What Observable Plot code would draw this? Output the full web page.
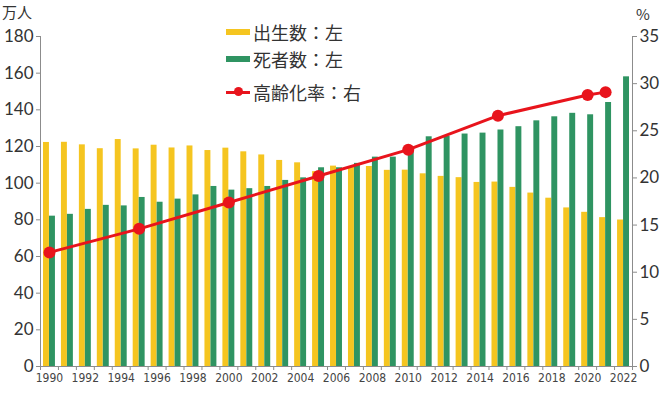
<!DOCTYPE html>
<html>
<head>
<meta charset="utf-8">
<script src="https://cdn.jsdelivr.net/npm/d3@7"></script>
<script src="https://cdn.jsdelivr.net/npm/@observablehq/plot@0.6"></script>
<style>
  html, body { margin: 0; padding: 0; background: #fff; }
  #wrap { position: relative; width: 660px; height: 395px; font-family: "Noto Sans CJK JP", "Noto Sans", sans-serif; color: #333; }
  #chart svg { display: block; }
  .unit { position: absolute; font-size: 15px; line-height: 1; color: #333; }
  #legend { position: absolute; left: 226px; top: 19px; font-size: 18px; color: #333; }
  .row { position: absolute; left: 0; height: 26px; display: flex; align-items: center; white-space: nowrap; }
  .sw { width: 24px; height: 6px; margin-right: 3px; }
  .lsw { position: relative; width: 24px; height: 3px; margin-right: 3px; background: #e8141c; }
  .lsw::after { content: ""; position: absolute; left: 8px; top: -3.5px; width: 9px; height: 9px; border-radius: 50%; background: #e8141c; }
</style>
</head>
<body>
<div id="wrap">
  <div id="chart"></div>
  <div class="unit" style="left:2px; top:4px;">万人</div>
  <div class="unit" style="left:636px; top:6px;">%</div>
  <div id="legend">
    <div class="row" style="top:0px;"><div class="sw" style="background:#f5c520"></div>出生数：左</div>
    <div class="row" style="top:27px;"><div class="sw" style="background:#2f9462"></div>死者数：左</div>
    <div class="row" style="top:60px;"><div class="lsw"></div>高齢化率：右</div>
  </div>
</div>
<script>
const years = [1990,1991,1992,1993,1994,1995,1996,1997,1998,1999,2000,2001,2002,2003,2004,2005,2006,2007,2008,2009,2010,2011,2012,2013,2014,2015,2016,2017,2018,2019,2020,2021,2022];
const births = [122.2,122.3,120.9,118.8,123.8,118.7,120.7,119.2,120.3,117.8,119.1,117.1,115.4,112.4,111.1,106.3,109.3,109.0,109.1,107.0,107.1,105.1,103.7,103.0,100.4,100.6,97.7,94.6,91.8,86.5,84.1,81.2,79.9];
const deaths = [82.0,83.0,85.7,87.9,87.6,92.2,89.6,91.3,93.6,98.2,96.2,97.0,98.2,101.5,102.9,108.4,108.4,110.8,114.2,114.2,119.7,125.3,125.6,126.8,127.3,129.0,130.8,134.0,136.2,138.1,137.3,144.0,158.0];
const rateYears = [1990,1995,2000,2005,2010,2015,2020,2021];
const rates = [12.1,14.6,17.4,20.2,23.0,26.6,28.8,29.1];
const leftTicks = [0,20,40,60,80,100,120,140,160,180];
const rightTicks = [0,5,10,15,20,25,30,35];
const labelYears = [1990,1992,1994,1996,1998,2000,2002,2004,2006,2008,2010,2012,2014,2016,2018,2020,2022];

const LEFT_MAX = 180, RIGHT_MAX = 35;
const k = LEFT_MAX / RIGHT_MAX;

const bars = years.map((y, i) => ({year: y, births: births[i], deaths: deaths[i]}));
const rateData = rateYears.map((y, i) => ({year: y, rate: rates[i] * k}));
const bounds = years.map(y => y - 0.5).concat([years[years.length - 1] + 0.5]);
const x0 = bounds[0], x1 = bounds[bounds.length - 1];

const axisColor = "#8c8c8c";
const textColor = "#333";
const fontFam = "Lato, 'Open Sans', sans-serif";

const chart = Plot.plot({
  width: 660,
  height: 395,
  marginLeft: 40,
  marginRight: 28,
  marginTop: 36,
  marginBottom: 29,
  style: {fontFamily: fontFam, color: textColor, background: "#fff", overflow: "visible"},
  x: {type: "linear", domain: [x0, x1]},
  y: {domain: [0, LEFT_MAX]},
  marks: [
    Plot.rectY(bars, {x1: d => d.year - 0.5, x2: d => d.year + 0.5, y1: 0, y2: "births", fill: "#f5c520", insetLeft: 3, insetRight: 9}),
    Plot.rectY(bars, {x1: d => d.year - 0.5, x2: d => d.year + 0.5, y1: 0, y2: "deaths", fill: "#2f9462", insetLeft: 9, insetRight: 3}),
    Plot.ruleY([0], {stroke: axisColor, strokeWidth: 1}),
    Plot.ruleX([x0, x1], {y1: 0, y2: LEFT_MAX, stroke: axisColor, strokeWidth: 1}),
    Plot.axisX({ticks: bounds, tickFormat: () => "", tickSize: 4, stroke: axisColor, label: null}),
    Plot.axisX({ticks: labelYears, tickFormat: d => String(d), tickSize: 0, tickPadding: 7, fontSize: 12, fill: "#444", label: null, fontFamily: "'Liberation Sans Narrow', 'DejaVu Sans Condensed', sans-serif"}),
    Plot.axisY({anchor: "left", ticks: leftTicks, tickSize: 4, tickPadding: 3, fontSize: 17, stroke: axisColor, fill: textColor, label: null}),
    Plot.axisY({anchor: "right", ticks: rightTicks.map(v => v * k), tickFormat: d => String(Math.round(d / k)), tickSize: 4, tickPadding: 3, fontSize: 17, stroke: axisColor, fill: textColor, label: null}),
    Plot.line(rateData, {x: "year", y: "rate", stroke: "#e8141c", strokeWidth: 3}),
    Plot.dot(rateData, {x: "year", y: "rate", r: 6, fill: "#e8141c", stroke: "none"})
  ]
});
document.getElementById("chart").appendChild(chart);
</script>
</body>
</html>
